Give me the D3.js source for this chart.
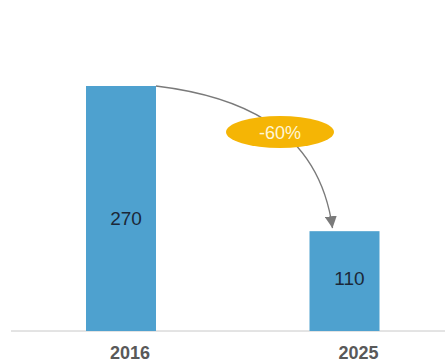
<!DOCTYPE html>
<html>
<head>
<meta charset="utf-8">
<script src="https://cdn.jsdelivr.net/npm/d3@7/dist/d3.min.js"></script>
<style>
  html, body { margin: 0; padding: 0; background: #fff; }
  svg { display: block; font-family: Arial, "Liberation Sans", sans-serif; }
</style>
</head>
<body>
<svg id="chart" width="445" height="361"></svg>
<script>
// Data
const years = ["2016", "2025"];
const values = [270, 110];
const changeLabel = "-60%";

const svg = d3.select("#chart");
const W = 445, H = 361;

const x = d3.scalePoint().domain(years).range([121, 344.5]);
const y = d3.scaleLinear().domain([0, 270]).range([331, 86]);
const barW = 70;

// Baseline
svg.append("line")
  .attr("x1", 11).attr("x2", W)
  .attr("y1", y(0)).attr("y2", y(0))
  .attr("stroke", "#c8c8c8").attr("stroke-width", 1);

// Bars
svg.selectAll("rect.bar")
  .data(years)
  .join("rect")
  .attr("class", "bar")
  .attr("x", d => x(d) - barW / 2)
  .attr("width", barW)
  .attr("y", (d, i) => y(values[i]))
  .attr("height", (d, i) => y(0) - y(values[i]))
  .attr("fill", "#4ea1cf");

// Value labels inside bars
svg.selectAll("text.val")
  .data(years)
  .join("text")
  .attr("class", "val")
  .attr("x", d => x(d) + 5)
  .attr("y", (d, i) => (y(values[i]) + y(0)) / 2 + (i === 0 ? 16 : 4))
  .attr("text-anchor", "middle")
  .attr("font-size", 19)
  .attr("fill", "#1b2838")
  .text((d, i) => values[i]);

// Year labels
svg.selectAll("text.year")
  .data(years)
  .join("text")
  .attr("class", "year")
  .attr("x", (d, i) => x(d) + (i === 0 ? 9 : 14))
  .attr("y", 358.5)
  .attr("text-anchor", "middle")
  .attr("font-size", 18)
  .attr("font-weight", "bold")
  .attr("fill", "#595959")
  .text(d => d);

// Arrow marker
svg.append("defs").append("marker")
  .attr("id", "head")
  .attr("viewBox", "0 0 10 10")
  .attr("refX", 10).attr("refY", 5)
  .attr("markerUnits", "userSpaceOnUse")
  .attr("markerWidth", 12).attr("markerHeight", 12)
  .attr("orient", "auto")
  .append("path")
  .attr("d", "M0,0 L10,5 L0,10 Z")
  .attr("fill", "#7a7a7a");

// Curved arrow from top of first bar to top of second bar
const x0 = x(years[0]) + barW / 2, y0 = y(values[0]);
const x1 = x(years[1]) - 12, y1 = y(values[1]) - 3;
const p = d3.path();
p.moveTo(x0, y0);
p.bezierCurveTo(230, 95, 318, 122, x1, y1);
svg.append("path")
  .attr("d", p.toString())
  .attr("fill", "none")
  .attr("stroke", "#7a7a7a")
  .attr("stroke-width", 1.3)
  .attr("marker-end", "url(#head)");

// Change badge
svg.append("ellipse")
  .attr("cx", 280).attr("cy", 132)
  .attr("rx", 54).attr("ry", 16)
  .attr("fill", "#f5b505");
svg.append("text")
  .attr("x", 280).attr("y", 138.5)
  .attr("text-anchor", "middle")
  .attr("font-size", 18)
  .attr("fill", "#fff6d6")
  .text(changeLabel);
</script>
</body>
</html>
